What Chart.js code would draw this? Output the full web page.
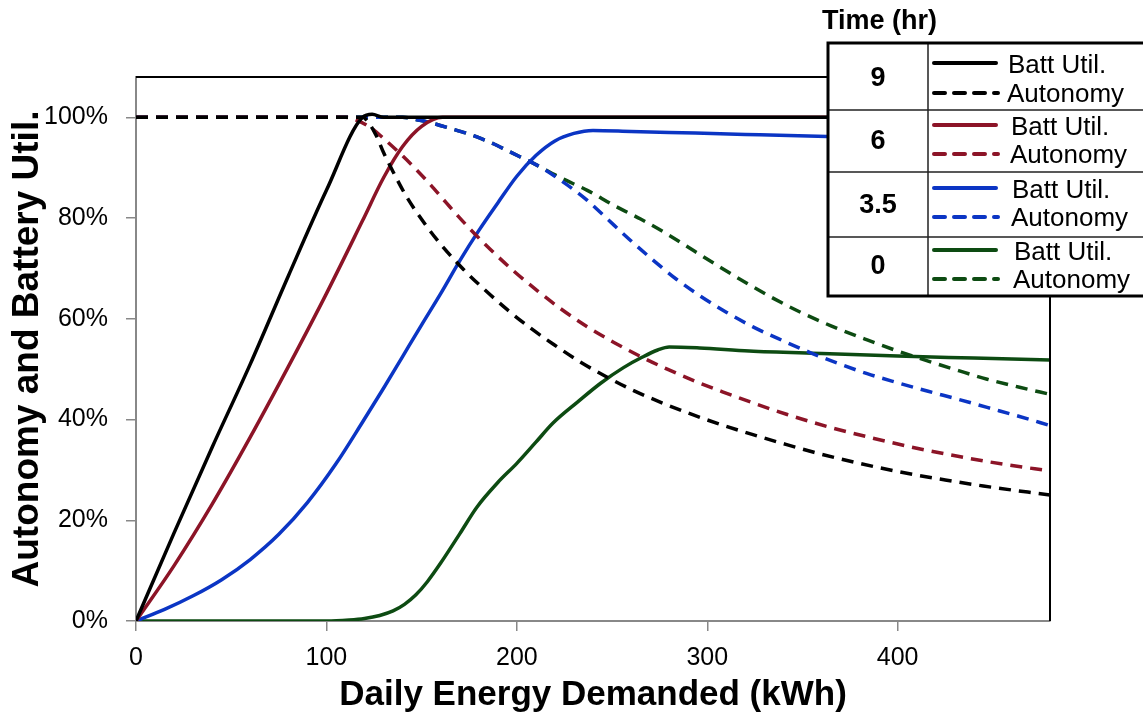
<!DOCTYPE html>
<html>
<head>
<meta charset="utf-8">
<script src="https://cdn.jsdelivr.net/npm/chart.js@4.4.1/dist/chart.umd.min.js"></script>
<style>
  html, body { margin: 0; padding: 0; background: #fff; }
  #wrap { width: 1143px; height: 715px; }
</style>
</head>
<body>
<div id="wrap"><canvas id="ch" width="1143" height="715"></canvas></div>
<script>
// values (x = kWh/day, y = %)
const batt9X = [0, 20, 40, 60, 80, 100, 119, 124, 130, 480];
const batt9Y = [0, 17.5, 34.5, 51, 68.5, 85.5, 100, 100.6, 100, 100];
const auto9X = [0, 119, 122, 126, 130, 135, 142, 151, 160, 172, 181, 195, 207, 219, 233, 247, 261, 277, 292, 308, 324, 340, 356, 380, 401, 425, 445, 480];
const auto9Y = [100, 100, 99, 96.5, 93, 89.2, 84.3, 79.2, 74.8, 69.8, 66.5, 61.8, 58.2, 55, 51.5, 48.5, 45.8, 43.2, 41, 38.9, 37, 35.2, 33.5, 31.3, 29.6, 28, 26.8, 25];

const batt6X = [0, 20, 40, 60, 80, 100, 119, 130, 140, 150, 161, 480];
const batt6Y = [0, 11, 23.2, 36.5, 50.5, 65, 79.5, 88, 94.2, 98.2, 100, 100];
const auto6X = [0, 110, 116, 123, 130, 142, 153, 163, 174, 186, 198, 211, 223, 237, 251, 265, 279, 295, 308, 324, 342, 364, 387, 410, 433, 456, 480];
const auto6Y = [100, 100, 99.4, 98, 95.8, 91.6, 87.3, 83, 78.4, 73.8, 69.6, 65.5, 62, 58.4, 55.3, 52.5, 50, 47.4, 45.5, 43.3, 41, 38.5, 36.3, 34.3, 32.6, 31.1, 29.8];

const batt35X = [0, 15, 30, 45, 60, 75, 90, 105, 119, 130, 140, 150, 160, 170, 180, 190, 200, 210, 220, 230, 240, 260, 280, 320, 363, 420, 480];
const batt35Y = [0, 2.3, 5, 8.2, 12.2, 17.2, 23.5, 31.2, 39.5, 46.2, 52.5, 58.8, 65, 71.5, 77.5, 83, 88.3, 92.4, 95.3, 96.8, 97.4, 97.2, 97, 96.6, 96.2, 95.8, 95.4];
const auto35X = [0, 140, 149, 157, 165, 173, 181, 188, 195, 202, 209, 216, 223, 230, 237, 247, 259, 272, 284, 296, 310, 324, 340, 354, 369, 384, 400, 416, 432, 447, 464, 480];
const auto35Y = [100, 100, 99.4, 98.7, 97.8, 96.9, 95.8, 94.7, 93.4, 92.1, 90.8, 89.3, 87.5, 85.6, 83.5, 80, 75.8, 71.5, 67.8, 64.6, 61.3, 58.4, 55.6, 53.3, 51.1, 49.1, 47.3, 45.6, 44, 42.4, 40.6, 38.8];

const batt0X = [0, 100, 112, 120, 128, 135, 141, 147, 153, 160, 170, 179, 190, 200, 210, 219, 232, 244, 256, 266, 274, 280, 296, 322, 360, 400, 440, 480];
const batt0Y = [0, 0, 0.2, 0.5, 1.1, 2, 3.3, 5.2, 7.8, 11.5, 17.3, 22.6, 27.5, 31.3, 35.5, 39.3, 43.5, 47.2, 50.3, 52.4, 53.8, 54.4, 54.2, 53.6, 53.1, 52.6, 52.2, 51.8];
const auto0X = [0, 140, 149, 157, 165, 173, 181, 188, 195, 202, 209, 223, 237, 251, 265, 279, 293, 307, 321, 335, 349, 365, 384, 400, 416, 432, 447, 464, 480];
const auto0Y = [100, 100, 99.4, 98.7, 97.8, 96.9, 95.8, 94.7, 93.4, 92.1, 90.8, 88, 85.5, 82.5, 79.8, 76.8, 73.5, 70.2, 67, 64, 61.3, 58.6, 55.8, 53.6, 51.6, 49.7, 48, 46.4, 45];

const times = ['9', '6', '3.5', '0'];
const colors = ['#000000', '#8c1427', '#0b35c4', '#0d4b12'];
const xTicks = [0, 100, 200, 300, 400];
const yTicks = [0, 20, 40, 60, 80, 100];

let pts = (xs, ys) => xs.map((x, i) => ({x: x, y: ys[i]}));

let line = (label, xs, ys, color, dashed) => ({
    label: label,
    data: pts(xs, ys),
    borderColor: color,
    borderWidth: 3.5,
    borderDash: dashed ? [12, 8] : [],
    pointRadius: 0,
    cubicInterpolationMode: 'monotone',
    fill: false
});

const FONT = "'Liberation Sans', Arial, sans-serif";

// top/right frame plus the legend table
const framePlugin = {
    id: 'frame',
    afterDatasetsDraw(chart) {
        const {ctx, chartArea: a} = chart;
        ctx.save();
        ctx.strokeStyle = '#000';
        ctx.lineWidth = 2;
        ctx.beginPath();
        ctx.moveTo(a.left, a.top);
        ctx.lineTo(a.right, a.top);
        ctx.lineTo(a.right, a.bottom);
        ctx.stroke();
        ctx.restore();
    },
    afterDraw(chart) {
        const ctx = chart.ctx;
        const L = 828, T = 43, B = 296, C = 928;
        const rows = [43, 110, 172, 237, 296];
        const solidY = [63, 125, 188, 250];
        const dashY = [93, 154, 217, 279];
        const numY = [79, 142, 206, 267];
        const textX = [1008, 1011, 1012, 1014];
        ctx.save();
        ctx.fillStyle = '#fff';
        ctx.fillRect(L, T, 1143 - L + 10, B - T);

        ctx.fillStyle = '#000';
        ctx.font = 'bold 27px ' + FONT;
        ctx.textAlign = 'left';
        ctx.textBaseline = 'middle';
        ctx.fillText('Time (hr)', 822, 22);

        ctx.strokeStyle = '#222';
        ctx.lineWidth = 1.5;
        ctx.beginPath();
        ctx.moveTo(C, T); ctx.lineTo(C, B);
        for (let i = 1; i < rows.length - 1; i++) {
            ctx.moveTo(L, rows[i]); ctx.lineTo(1143, rows[i]);
        }
        ctx.stroke();
        ctx.strokeStyle = '#000';
        ctx.lineWidth = 3;
        ctx.strokeRect(L, T, 1143 - L + 10, B - T);

        times.forEach((t, i) => {
            ctx.fillStyle = '#000';
            ctx.font = 'bold 27px ' + FONT;
            ctx.textAlign = 'center';
            ctx.fillText(t, 878, numY[i]);

            ctx.strokeStyle = colors[i];
            ctx.lineWidth = 4;
            ctx.lineCap = 'round';
            ctx.setLineDash([]);
            ctx.beginPath();
            ctx.moveTo(934, solidY[i]); ctx.lineTo(996, solidY[i]);
            ctx.stroke();
            ctx.setLineDash([11, 9]);
            ctx.beginPath();
            ctx.moveTo(934, dashY[i]); ctx.lineTo(998, dashY[i]);
            ctx.stroke();
            ctx.setLineDash([]);

            ctx.fillStyle = '#000';
            ctx.font = '26px ' + FONT;
            ctx.textAlign = 'left';
            ctx.fillText('Batt Util.', textX[i], solidY[i] + 3);
            ctx.fillText('Autonomy', textX[i] - 1, dashY[i] + 2);
        });
        ctx.restore();
    }
};

let chart = new Chart('ch', {
    type: 'line',
    data: {
        datasets: [
            line('9 Batt Util.', batt9X, batt9Y, colors[0], false),
            line('9 Autonomy', auto9X, auto9Y, colors[0], true),
            line('6 Batt Util.', batt6X, batt6Y, colors[1], false),
            line('6 Autonomy', auto6X, auto6Y, colors[1], true),
            line('3.5 Batt Util.', batt35X, batt35Y, colors[2], false),
            line('3.5 Autonomy', auto35X, auto35Y, colors[2], true),
            line('0 Batt Util.', batt0X, batt0Y, colors[3], false),
            line('0 Autonomy', auto0X, auto0Y, colors[3], true)
        ]
    },
    options: {
        responsive: false,
        animation: false,
        layout: { padding: { top: 77, right: 93, left: 0, bottom: 0 } },
        plugins: { legend: { display: false }, tooltip: { enabled: false } },
        scales: {
            x: {
                type: 'linear',
                min: 0,
                max: 480,
                afterFit: s => { s.height = 94; },
                afterBuildTicks: s => { s.ticks = xTicks.map(v => ({value: v})); },
                ticks: { color: '#000', font: { family: FONT, size: 25 }, padding: 12, maxRotation: 0 },
                grid: { drawOnChartArea: false, drawTicks: true, tickLength: 10, color: '#888', lineWidth: 1.5 },
                border: { color: '#888', width: 2 },
                title: {
                    display: true,
                    text: 'Daily Energy Demanded (kWh)',
                    color: '#000',
                    font: { family: FONT, size: 35, weight: 'bold', lineHeight: 1.1 },
                    padding: { top: 0, bottom: 0 }
                }
            },
            y: {
                min: 0,
                max: 108,
                afterFit: s => { s.width = 136; },
                afterBuildTicks: s => { s.ticks = yTicks.map(v => ({value: v})); },
                ticks: { color: '#000', font: { family: FONT, size: 25 }, padding: 18, callback: v => v + '%' },
                grid: { drawOnChartArea: false, drawTicks: true, tickLength: 10, color: '#888', lineWidth: 1.5 },
                border: { color: '#888', width: 2 },
                title: {
                    display: true,
                    text: 'Autonomy and Battery Util.',
                    color: '#000',
                    font: { family: FONT, size: 37, weight: 'bold', lineHeight: 1.1 },
                    padding: { top: 7, bottom: 0 }
                }
            }
        }
    },
    plugins: [framePlugin]
});
</script>
</body>
</html>
